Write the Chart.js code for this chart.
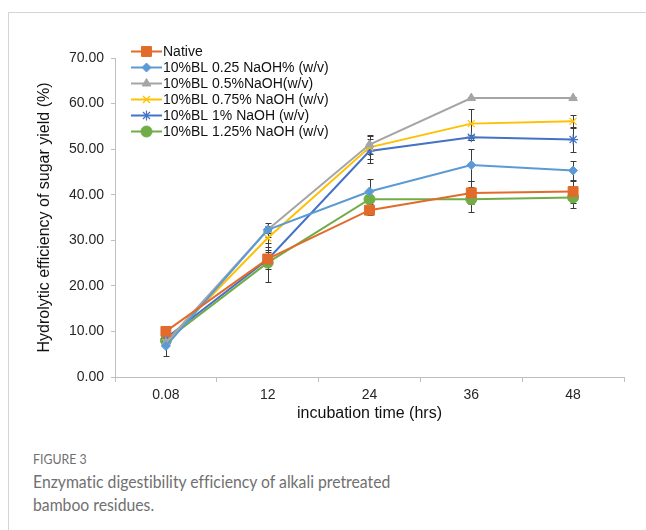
<!DOCTYPE html>
<html>
<head>
<meta charset="utf-8">
<script src="https://cdn.jsdelivr.net/npm/chart.js@4.4.1/dist/chart.umd.min.js"></script>
<style>
  html, body { margin: 0; padding: 0; background: #fff; }
  body { width: 646px; height: 530px; position: relative; overflow: hidden; }
  #card-top { position: absolute; left: 8px; top: 12px; width: 640px; height: 1px; background: #d4d4d4; }
  #card-left { position: absolute; left: 8px; top: 12px; width: 1px; height: 520px; background: #d4d4d4; }
  #wrap { position: absolute; left: 0; top: 0; width: 646px; height: 427px; }
  #fig { position: absolute; left: 33px; top: 450px; font-family: Lato, "Open Sans", sans-serif; color: #707070; font-size: 14px; transform: scaleX(0.88); transform-origin: left top; white-space: nowrap; font-variant-ligatures: none; }
  #cap { position: absolute; left: 33px; top: 470px; width: 540px; font-family: Lato, "Open Sans", sans-serif; color: #707070; font-size: 18px; line-height: 23px; transform: scaleX(0.875); transform-origin: left top; font-variant-ligatures: none; font-feature-settings: "liga" 0, "clig" 0; }
</style>
</head>
<body>
<div id="card-top"></div>
<div id="card-left"></div>
<div id="wrap"><canvas id="c" width="646" height="427"></canvas></div>
<div id="fig">FIGURE 3</div>
<div id="cap">Enzymatic digestibility efficiency of alkali pretreated<br>bamboo residues.</div>
<script>
// ---- data ----
const categories = ['0.08', '12', '24', '36', '48'];
const seriesNames = ['Native', '10%BL 0.25 NaOH% (w/v)', '10%BL 0.5%NaOH(w/v)', '10%BL 0.75% NaOH (w/v)', '10%BL 1% NaOH (w/v)', '10%BL 1.25% NaOH (w/v)'];
const nativeVals = [10.0, 25.9, 36.6, 40.4, 40.7];
const bl025Vals = [6.8, 32.3, 40.7, 46.5, 45.3];
const bl05Vals = [7.6, 32.3, 51.0, 61.2, 61.2];
const bl075Vals = [7.6, 30.5, 50.4, 55.6, 56.1];
const bl1Vals = [8.5, 25.8, 49.6, 52.6, 52.1];
const bl125Vals = [8.0, 25.1, 39.0, 39.0, 39.4];
const nativeErr = [0.5, 1.5, 1.0, 2.5, 2.5];
const bl025Err = [2.2, 1.5, 2.7, 3.5, 2.2];
const bl05Err = [0.5, 0.8, 2.0, 0.3, 0.3];
const bl075Err = [0.5, 2.0, 2.5, 3.2, 1.4];
const bl1Err = [0.5, 2.0, 2.6, 0.6, 2.7];
const bl125Err = [0.5, 4.2, 0.5, 2.7, 2.3];
const yTicks = [0, 10, 20, 30, 40, 50, 60, 70];

const colors = ['#E26B2B', '#5B9BD5', '#A5A5A5', '#FFC000', '#4472C4', '#70AD47'];
const styles = ['rect', 'rectRot', 'triangle', 'crossRot', 'star', 'circle'];
const radii = [7, 4.5, 5, 5, 5, 5.5];
const vals = [nativeVals, bl025Vals, bl05Vals, bl075Vals, bl1Vals, bl125Vals];
const errs = [nativeErr, bl025Err, bl05Err, bl075Err, bl1Err, bl125Err];

const FONT = '"Liberation Sans", Arial, sans-serif';

const datasets = vals.map((v, i) => ({
  label: seriesNames[i],
  data: v,
  errors: errs[i],
  borderColor: colors[i],
  backgroundColor: colors[i],
  pointBackgroundColor: colors[i],
  pointBorderColor: colors[i],
  pointStyle: styles[i],
  pointRadius: radii[i],
  pointBorderWidth: (styles[i] === 'crossRot' || styles[i] === 'star') ? 1.2 : 1,
  borderWidth: 2,
  tension: 0,
  fill: false
}));

const errorBars = {
  id: 'errorBars',
  beforeDatasetsDraw(chart) {
    const ctx = chart.ctx;
    const y = chart.scales.y;
    ctx.save();
    ctx.strokeStyle = '#3a3a3a';
    ctx.lineWidth = 1;
    chart.data.datasets.forEach((ds, di) => {
      const meta = chart.getDatasetMeta(di);
      meta.data.forEach((pt, i) => {
        const v = ds.data[i], e = ds.errors[i];
        const yt = Math.round(y.getPixelForValue(v + e)) + 0.5;
        const yb = Math.round(y.getPixelForValue(v - e)) + 0.5;
        const x = Math.round(pt.x) + 0.5;
        ctx.beginPath();
        ctx.moveTo(x, yt); ctx.lineTo(x, yb);
        ctx.moveTo(x - 3, yt); ctx.lineTo(x + 3, yt);
        ctx.moveTo(x - 3, yb); ctx.lineTo(x + 3, yb);
        ctx.stroke();
      });
    });
    ctx.restore();
  }
};

const customLegend = {
  id: 'customLegend',
  afterDraw(chart) {
    const ctx = chart.ctx;
    ctx.save();
    ctx.font = '14px ' + FONT;
    ctx.textBaseline = 'middle';
    ctx.fillStyle = '#111';
    chart.data.datasets.forEach((ds, i) => {
      const yy = 51.5 + i * 16;
      ctx.strokeStyle = ds.borderColor;
      ctx.lineWidth = 2;
      ctx.beginPath();
      ctx.moveTo(131, yy); ctx.lineTo(162, yy);
      ctx.stroke();
      ctx.fillStyle = ds.backgroundColor;
      ctx.strokeStyle = ds.borderColor;
      ctx.lineWidth = ds.pointBorderWidth;
      Chart.helpers.drawPoint(ctx, { pointStyle: ds.pointStyle, radius: ds.pointRadius, borderWidth: ds.pointBorderWidth, rotation: 0 }, 146.5, yy);
      ctx.fillStyle = '#111';
      ctx.fillText(ds.label, 163, yy + 0.5);
    });
    ctx.restore();
  }
};

new Chart(document.getElementById('c'), {
  type: 'line',
  data: { labels: categories, datasets },
  plugins: [errorBars, customLegend],
  options: {
    responsive: false,
    animation: false,
    devicePixelRatio: 1,
    layout: { padding: { left: 31, right: 22, top: 58, bottom: 0 } },
    plugins: { legend: { display: false }, tooltip: { enabled: false } },
    scales: {
      x: {
        type: 'category',
        offset: true,
        grid: { display: true, drawOnChartArea: false, offset: true, color: '#bfbfbf', tickLength: 5, tickColor: '#bfbfbf' },
        border: { color: '#bfbfbf', width: 1 },
        ticks: { font: { family: FONT, size: 14 }, color: '#262626', padding: 5, maxRotation: 0 },
        title: { display: true, text: 'incubation time (hrs)', font: { family: FONT, size: 16 }, color: '#111', padding: { top: 4, bottom: 4 } },
        afterFit(s) { s.height = 50; }
      },
      y: {
        min: 0, max: 70,
        afterBuildTicks(s) { s.ticks = yTicks.map(v => ({ value: v })); },
        grid: { display: true, drawOnChartArea: false, color: '#bfbfbf', tickLength: 4, tickColor: '#bfbfbf' },
        border: { color: '#bfbfbf', width: 1 },
        ticks: { font: { family: FONT, size: 14 }, color: '#262626', padding: 7, callback: v => Number(v).toFixed(2) },
        title: { display: true, text: 'Hydrolytic efficiency of sugar yield (%)', font: { family: FONT, size: 16 }, color: '#111', padding: { top: 4, bottom: 4 } },
        afterFit(s) { s.width = 84; }
      }
    }
  }
});
</script>
</body>
</html>
